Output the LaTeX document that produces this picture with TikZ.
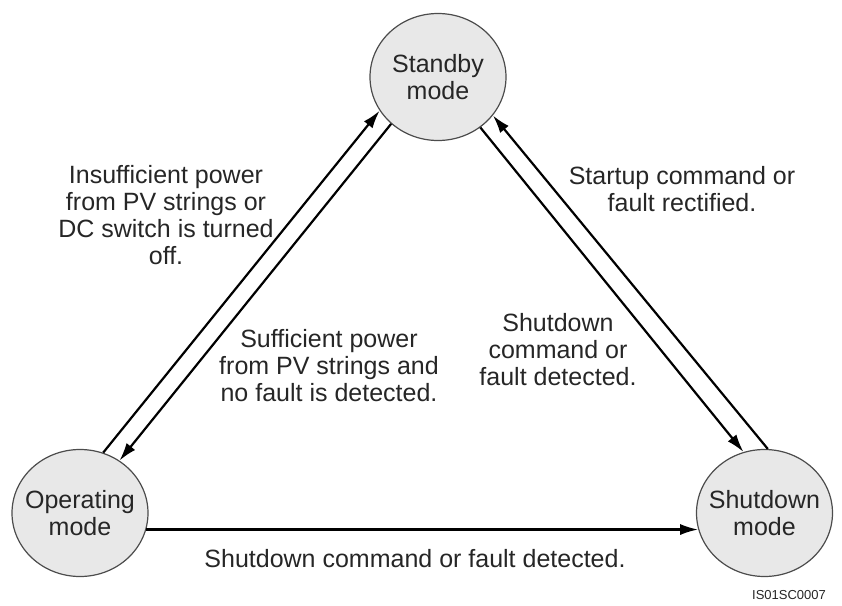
\documentclass[tikz,border=0pt]{standalone}
\usepackage{fontspec}
\setmainfont{Liberation Sans}
\usepackage{tikz}
\usetikzlibrary{arrows.meta}
\usetikzlibrary{shapes.geometric}
\tikzset{>={Latex[length=9pt,width=5.5pt]}}
\usepackage{xcolor}
\colorlet{modefill}{black!9}
\colorlet{modeline}{black!70}
\tikzstyle{mode}=[ellipse,draw=modeline,fill=modefill,line width=0.6pt,minimum width=68pt,minimum height=63.5pt,inner sep=-8pt,align=center,text=black!85,font=\fontsize{12.5}{13.8}\selectfont]
\tikzstyle{note}=[align=center,inner sep=0pt,text=black!85,font=\fontsize{12.5}{13.5}\selectfont]

\begin{document}
\begin{tikzpicture}[x=0.5pt, y=-0.5pt, line width=1.1pt]
	\useasboundingbox (0,0) rectangle (842,606);
	\node[mode] (standby) at (438,77) {Standby\\mode};
	\node[mode] (operating) at (80,513) {Operating\\mode};
	\node[mode] (shutdown) at (764.5,513) {Shutdown\\mode};
	% transitions
	\draw[->] (operating.69) -- (standby.210);
	\draw[->] (standby.225) -- (operating.53);
	\draw[->] (standby.310) -- (shutdown.109);
	\draw[->] (shutdown.87) -- (standby.325);
	\draw[->] (operating.-14) -- (shutdown.194);
	% labels
	\node[note] (insufficient) at (166,215) {Insufficient power\\from PV strings or\\DC switch is turned\\off.};
	\node[note] (sufficient) at (329,366) {Sufficient power\\from PV strings and\\no fault is detected.};
	\node[note] (startup) at (682,189) {Startup command or\\fault rectified.};
	\node[note] (stopfault) at (558,350) {Shutdown\\command or\\fault detected.};
	\node[note] (stopbottom) at (415,559) {Shutdown command or fault detected.};
	\node[note, anchor=east, font=\fontsize{6.5}{7}\selectfont] (figid) at (827,595) {IS01SC0007};
\end{tikzpicture}
\end{document}
